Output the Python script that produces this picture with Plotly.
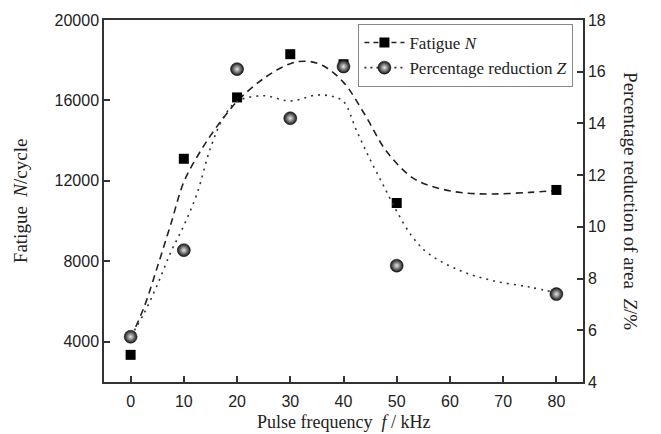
import plotly.graph_objects as go

# Measured points
freq = [0, 10, 20, 30, 40, 50, 80]
fatigue_n = [3350, 13100, 16150, 18300, 17800, 10900, 11550]
reduction_z = [5.75, 9.1, 16.1, 14.2, 16.2, 8.5, 7.4]

# Fitted curves
n_curve_x = [0, 2.5, 5, 7.5, 10, 12.5, 15, 17.5, 20, 25, 30, 33, 36, 40, 44, 48, 53, 57, 62, 68, 75, 80]
n_curve_y = [4200, 5700, 7700, 9800, 11950, 13200, 14250, 15150, 15950, 17090, 17830, 17950, 17750, 16900, 15300, 13500, 12150, 11700, 11420, 11350, 11430, 11520]
z_curve_x = [0, 2.5, 5, 7.5, 10, 12.5, 15, 17.5, 20, 25, 30, 35, 38, 40, 42.5, 45, 47.5, 50, 53, 56, 62, 68, 75, 80]
z_curve_y = [5.75, 6.65, 7.75, 9.0, 10.05, 11.3, 13.05, 14.25, 14.85, 15.07, 14.87, 15.1, 15.04, 14.85, 13.7, 12.6, 11.6, 10.6, 9.6, 8.96, 8.3, 7.92, 7.67, 7.45]

x_ticks = [0, 10, 20, 30, 40, 50, 60, 70, 80]
y1_ticks = [4000, 8000, 12000, 16000, 20000]
y2_ticks = [4, 6, 8, 10, 12, 14, 16, 18]

SERIF = "Liberation Serif, Times New Roman, serif"
SANS = "Liberation Sans, Arial, sans-serif"
AX = "#333333"

ball = dict(symbol="circle", size=13, color="#111111",
            gradient=dict(type="radial", color="#e8e8e8"),
            line=dict(width=0.5, color="#111"))
square = dict(symbol="square", size=10, color="#000000")

fig = go.Figure()
fig.add_trace(go.Scatter(x=n_curve_x, y=n_curve_y, mode="lines", line=dict(color="#222", width=1.6, dash="7px,5px", shape="spline"), showlegend=False, yaxis="y"))
fig.add_trace(go.Scatter(x=z_curve_x, y=z_curve_y, mode="lines", line=dict(color="#333", width=1.6, dash="2px,5px", shape="spline"), showlegend=False, yaxis="y2"))
fig.add_trace(go.Scatter(x=freq, y=fatigue_n, mode="markers", marker=square, showlegend=False, yaxis="y"))
fig.add_trace(go.Scatter(x=freq, y=reduction_z, mode="markers", marker=ball, showlegend=False, yaxis="y2"))
# legend entries
fig.add_trace(go.Scatter(x=[None], y=[None], mode="lines+markers", name="Fatigue <i>N</i>", marker=square, line=dict(color="#222", width=1.6, dash="5px,4px")))
fig.add_trace(go.Scatter(x=[None], y=[None], mode="lines+markers", name="Percentage reduction <i>Z</i>", marker=ball, line=dict(color="#333", width=1.6, dash="2px,4px")))

fig.update_layout(
    width=661, height=434,
    margin=dict(l=104, r=78, t=18, b=52),
    paper_bgcolor="white", plot_bgcolor="white",
    font=dict(family=SANS, color="#222"),
    xaxis=dict(range=[-5, 85], tickvals=x_ticks, ticktext=[str(v) for v in x_ticks], ticks="inside", ticklen=6, tickwidth=1.5, tickcolor=AX,
               showline=True, linecolor=AX, linewidth=1.5, mirror=True, showgrid=False, zeroline=False, ticklabelstandoff=4,
               tickfont=dict(family=SANS, size=16, color="#222")),
    yaxis=dict(range=[2000, 20000], tickvals=y1_ticks, ticktext=[str(v) for v in y1_ticks], ticks="inside", ticklen=6, tickwidth=1.5, tickcolor=AX,
               showline=True, linecolor=AX, linewidth=1.5, showgrid=False, zeroline=False,
               tickfont=dict(family=SANS, size=16, color="#222")),
    yaxis2=dict(range=[4, 18], tickvals=y2_ticks, ticktext=[str(v) for v in y2_ticks], ticks="inside", ticklen=6, tickwidth=1.5, tickcolor=AX,
                overlaying="y", side="right", showline=True, linecolor=AX, linewidth=1.5, showgrid=False, zeroline=False,
                tickfont=dict(family=SANS, size=16, color="#222")),
    legend=dict(x=0.98, y=0.989, xanchor="right", yanchor="top", bgcolor="rgba(255,255,255,0.9)",
                bordercolor="#888", borderwidth=1, font=dict(family=SERIF, size=17, color="#222"),
                tracegroupgap=0, itemwidth=40),
    annotations=[
        dict(text="Pulse frequency  <i>f</i> / kHz", xref="paper", yref="paper", x=0.5, y=-0.1425, xanchor="center", yanchor="bottom",
             showarrow=False, font=dict(family=SERIF, size=18, color="#222")),
        dict(text="Fatigue  <i>N</i>/cycle", xref="paper", yref="paper", x=-0.175, y=0.5, textangle=-90, xanchor="center", yanchor="middle",
             showarrow=False, font=dict(family=SERIF, size=19, color="#222")),
        dict(text="Percentage reduction of area  <i>Z</i>/%", xref="paper", yref="paper", x=1.1, y=0.5, textangle=90, xanchor="center", yanchor="middle",
             showarrow=False, font=dict(family=SERIF, size=19, color="#222")),
    ],
)

fig.write_html("out.html", config={"displayModeBar": False},
               post_script="document.body.style.margin='0';document.body.style.overflow='hidden';")
